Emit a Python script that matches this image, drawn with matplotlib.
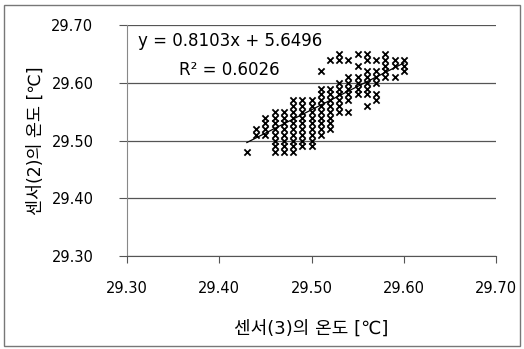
import matplotlib
matplotlib.use("Agg")
import matplotlib.pyplot as plt
from matplotlib.patches import Rectangle

plt.rcParams['font.family'] = ['DejaVu Sans', 'Noto Sans CJK KR']

# sensor(3) temperature columns and the sensor(2) readings seen at each
x_cols = [29.43, 29.44, 29.45, 29.46, 29.47, 29.48, 29.49, 29.50, 29.51,
          29.52, 29.53, 29.54, 29.55, 29.56, 29.57, 29.58, 29.59, 29.60]
y_cols = [
    [29.48],
    [29.51, 29.52],
    [29.51, 29.52, 29.53, 29.54],
    [29.48, 29.49, 29.50, 29.51, 29.52, 29.53, 29.54, 29.55],
    [29.48, 29.49, 29.50, 29.51, 29.52, 29.53, 29.54, 29.55],
    [29.48, 29.49, 29.50, 29.51, 29.52, 29.53, 29.54, 29.55, 29.56, 29.57],
    [29.49, 29.50, 29.51, 29.52, 29.53, 29.54, 29.55, 29.56, 29.57],
    [29.49, 29.50, 29.51, 29.52, 29.53, 29.54, 29.55, 29.56, 29.57],
    [29.51, 29.52, 29.53, 29.54, 29.55, 29.56, 29.57, 29.58, 29.59, 29.62],
    [29.52, 29.53, 29.54, 29.55, 29.56, 29.57, 29.58, 29.59, 29.64],
    [29.55, 29.56, 29.57, 29.58, 29.59, 29.60, 29.64, 29.65],
    [29.55, 29.57, 29.58, 29.59, 29.60, 29.61, 29.64],
    [29.58, 29.59, 29.60, 29.61, 29.63, 29.65],
    [29.56, 29.58, 29.59, 29.60, 29.61, 29.62, 29.64, 29.65],
    [29.57, 29.58, 29.60, 29.61, 29.62, 29.64],
    [29.61, 29.62, 29.63, 29.64, 29.65],
    [29.61, 29.63, 29.64],
    [29.62, 29.63, 29.64],
]
slope = 0.8103
intercept = 5.6496
r2 = 0.6026
ticks = [29.30, 29.40, 29.50, 29.60, 29.70]

xs, ys = [], []
for x, col in zip(x_cols, y_cols):
    for y in col:
        xs.append(x)
        ys.append(y)

fig = plt.figure(figsize=(5.24, 3.49), dpi=100)
ax = fig.add_axes([0.242, 0.266, 0.705, 0.662])

ax.scatter(xs, ys, marker='x', s=20, color='black', linewidths=1.3, zorder=3)
fx = [min(x_cols), max(x_cols)]
ax.plot(fx, [slope * v + intercept for v in fx], color='black', lw=0.9, zorder=4)

ax.set_xlim(29.30, 29.70)
ax.set_ylim(29.30, 29.70)
ax.set_xticks(ticks)
ax.set_yticks(ticks)
ax.set_xticklabels([f"{t:.2f}" for t in ticks], fontsize=10.5)
ax.set_yticklabels([f"{t:.2f}" for t in ticks], fontsize=10.5)
ax.grid(axis='y', color='#555555', lw=0.9)
ax.set_axisbelow(True)
for s in ['top', 'right']:
    ax.spines[s].set_visible(False)
ax.spines['left'].set_color('#888888')
ax.spines['bottom'].set_color('#555555')
ax.tick_params(axis='x', length=5, pad=13, color='#555555')
ax.tick_params(axis='y', length=6, pad=18, color='#555555')

ax.set_xlabel("센서(3)의 온도 [℃]", fontsize=13, labelpad=17)
ax.set_ylabel("센서(2)의 온도 [℃]", fontsize=12.5, labelpad=5)

ax.text(29.312, 29.672, f"y = {slope}x + {intercept}", fontsize=12, va='center')
ax.text(29.357, 29.622, f"R² = {r2}", fontsize=12, va='center')

fig.patches.append(Rectangle((0.008, 0.01), 0.985, 0.975, transform=fig.transFigure,
                             fill=False, edgecolor='#777777', lw=1))

fig.savefig("out.png", dpi=100)
